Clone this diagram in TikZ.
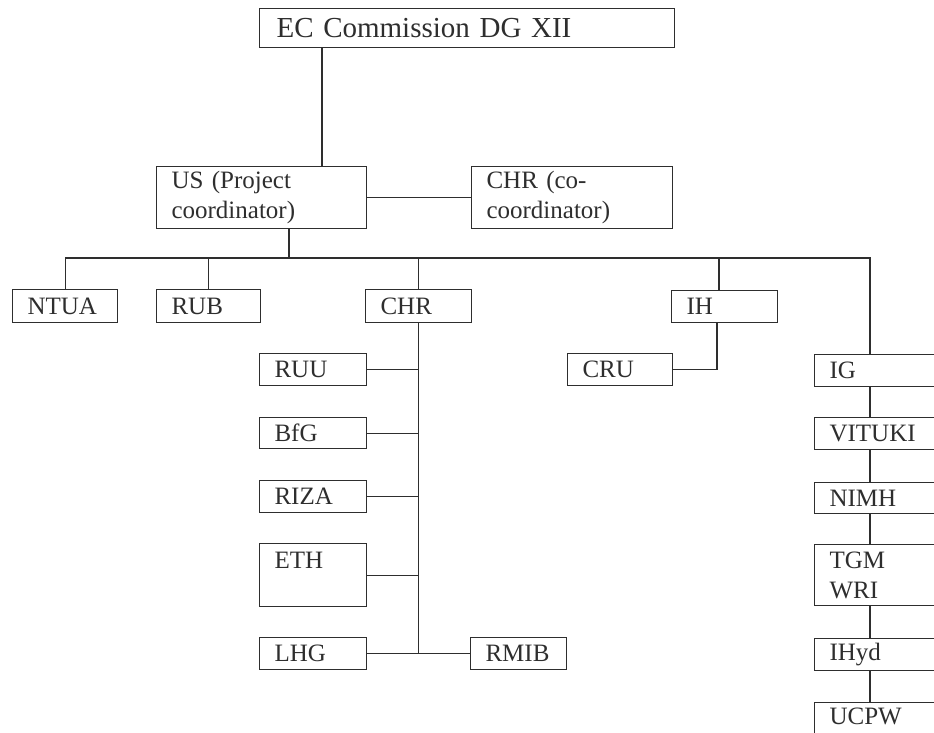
\documentclass[tikz,border=0pt]{standalone}
\usepackage{fontspec}
\setmainfont{Liberation Serif}
\definecolor{ink}{HTML}{2E2E2E}
\tikzset{
  orgbox/.style={draw=ink, text=ink, line width=1.1pt, rectangle, inner xsep=15pt, inner ysep=0pt,
    anchor=north west, align=left, font=\fontsize{25}{30}\selectfont},
  link/.style={draw=ink, line width=1.1pt}
}
\newcommand\orgbox[7][]{%
  \pgfmathsetmacro\myBW{#5-#3-30}\pgfmathsetmacro\myBH{#6-#4}%
  \node[orgbox, text width=\myBW pt, minimum height=\myBH pt, #1] (#2) at (#3,#4) {#7};}
\begin{document}
\begin{tikzpicture}[x=1pt,y=-1pt]
\useasboundingbox (0,0) rectangle (934,733);
\fill[white] (0,0) rectangle (934,733);
\clip (0,0) rectangle (934,733);
% boxes
\orgbox[inner xsep=17pt, font=\fontsize{29}{34}\selectfont]{EC}{259}{8}{670}{47}{EC Commission DG XII}
\orgbox{US}{156}{166}{366}{228}{US (Project\\coordinator)}
\orgbox{CHRco}{471}{166}{672}{228}{CHR (co-\\coordinator)}
\orgbox{NTUA}{12}{289}{117}{322}{NTUA}
\orgbox{RUB}{156}{289}{260}{322}{RUB}
\orgbox{CHR}{365}{289}{471}{322}{CHR}
\orgbox{IH}{671}{290}{777}{322}{IH}
\orgbox{IG}{814}{354}{960}{386}{IG}
\orgbox{RUU}{259}{353}{366}{385}{RUU}
\orgbox{CRU}{567}{353}{672}{385}{CRU}
\orgbox{BfG}{259}{417}{366}{448}{BfG}
\orgbox{VITUKI}{814}{417}{960}{449}{VITUKI}
\orgbox{RIZA}{259}{480}{366}{512}{RIZA}
\orgbox{NIMH}{814}{482}{960}{513}{NIMH}
\orgbox{ETH}{259}{543}{366}{606}{ETH\\\mbox{}}
\orgbox{TGM}{814}{544}{960}{605}{TGM\\WRI}
\orgbox{LHG}{259}{637}{366}{669}{LHG}
\orgbox{RMIB}{470}{637}{566}{669}{RMIB}
\orgbox{IHyd}{814}{638}{960}{670}{IHyd}
\orgbox{UCPW}{814}{702}{960}{760}{UCPW\\\mbox{}}
% helper coordinates
\coordinate (bus) at (0,258);
\coordinate (xEC) at (322,0);
\coordinate (xUS) at (289,0);
\coordinate (xIH) at (719,0);
\coordinate (xIHd) at (717,0);
\coordinate (xIG) at (870,0);
% connectors
\draw[link] (EC.south -| xEC) -- (US.north -| xEC);
\draw[link] (US.east) -- (CHRco.west);
\draw[link] (US.south -| xUS) -- (bus -| xUS);
\draw[link] (NTUA.north) -- (NTUA.north |- bus) -- (bus -| xIG) -- (IG.north -| xIG);
\draw[link] (RUB.north) -- (RUB.north |- bus);
\draw[link] (CHR.north) -- (CHR.north |- bus);
\draw[link] (IH.north -| xIH) -- (bus -| xIH);
\draw[link] (IH.south -| xIHd) |- (CRU.east);
\draw[link] (CHR.south) -- (CHR.south |- LHG.east);
\draw[link] (RUU.east) -- (RUU.east -| CHR.south);
\draw[link] (BfG.east) -- (BfG.east -| CHR.south);
\draw[link] (RIZA.east) -- (RIZA.east -| CHR.south);
\draw[link] (ETH.east) -- (ETH.east -| CHR.south);
\draw[link] (LHG.east) -- (RMIB.west);
\draw[link] (IG.south -| xIG) -- (VITUKI.north -| xIG);
\draw[link] (VITUKI.south -| xIG) -- (NIMH.north -| xIG);
\draw[link] (NIMH.south -| xIG) -- (TGM.north -| xIG);
\draw[link] (TGM.south -| xIG) -- (IHyd.north -| xIG);
\draw[link] (IHyd.south -| xIG) -- (UCPW.north -| xIG);
\end{tikzpicture}
\end{document}
